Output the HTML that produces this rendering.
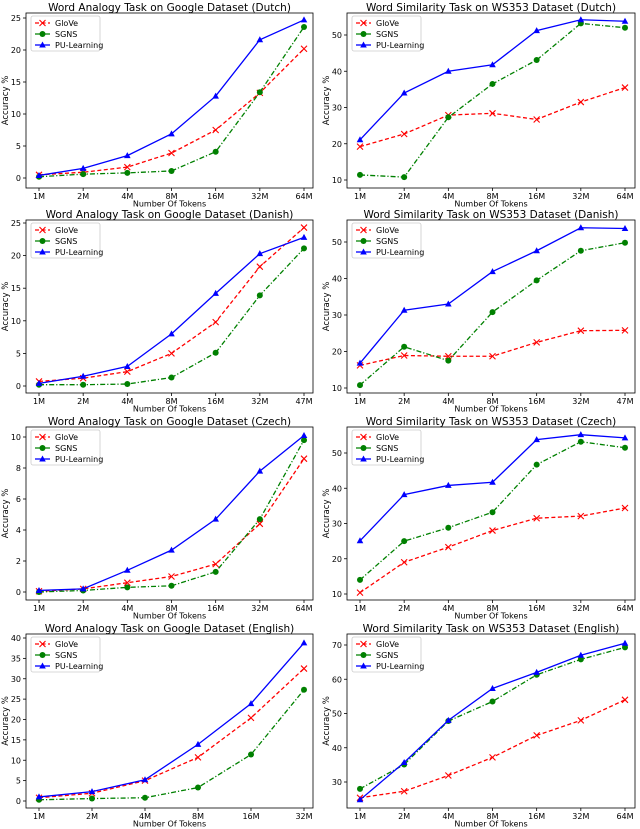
<!DOCTYPE html>
<html><head><meta charset="utf-8">
<style>
body{margin:0;background:#fff;}
svg{display:block;font-family:"DejaVu Sans","Liberation Sans",sans-serif;}
</style></head>
<body>
<svg id="chart" width="640" height="829" viewBox="0 0 640 829" xmlns="http://www.w3.org/2000/svg"></svg>
<script>
// ---- data ----
const titles = [
 "Word Analogy Task on Google Dataset (Dutch)","Word Similarity Task on WS353 Dataset (Dutch)",
 "Word Analogy Task on Google Dataset (Danish)","Word Similarity Task on WS353 Dataset (Danish)",
 "Word Analogy Task on Google Dataset (Czech)","Word Similarity Task on WS353 Dataset (Czech)",
 "Word Analogy Task on Google Dataset (English)","Word Similarity Task on WS353 Dataset (English)"];
const cats64 = ["1M","2M","4M","8M","16M","32M","64M"];
const cats47 = ["1M","2M","4M","8M","16M","32M","47M"];
const cats32 = ["1M","2M","4M","8M","16M","32M"];
const gloveDutchA = [0.5,0.9,1.7,3.9,7.5,13.3,20.2];
const sgnsDutchA  = [0.2,0.6,0.8,1.1,4.1,13.4,23.6];
const puDutchA    = [0.4,1.5,3.5,6.9,12.8,21.6,24.7];
const gloveDutchS = [19.2,22.7,27.9,28.4,26.7,31.5,35.5];
const sgnsDutchS  = [11.4,10.8,27.3,36.5,43.1,53.2,52.0];
const puDutchS    = [21.1,34.0,40.0,41.8,51.2,54.2,53.8];
const gloveDanishA = [0.7,1.2,2.2,5.0,9.8,18.3,24.3];
const sgnsDanishA  = [0.2,0.2,0.3,1.3,5.1,13.9,21.1];
const puDanishA    = [0.4,1.5,3.0,8.0,14.2,20.3,22.8];
const gloveDanishS = [16.2,18.9,18.7,18.7,22.5,25.7,25.8];
const sgnsDanishS  = [10.8,21.3,17.5,30.8,39.5,47.6,49.8];
const puDanishS    = [16.8,31.3,33.0,41.9,47.6,53.9,53.7];
const gloveCzechA = [0.05,0.2,0.6,1.0,1.8,4.4,8.6];
const sgnsCzechA  = [0.0,0.1,0.3,0.4,1.3,4.7,9.8];
const puCzechA    = [0.1,0.2,1.4,2.7,4.7,7.8,10.1];
const gloveCzechS = [10.4,19.0,23.3,28.0,31.5,32.1,34.4];
const sgnsCzechS  = [14.0,25.0,28.8,33.2,46.7,53.2,51.5];
const puCzechS    = [25.1,38.2,40.8,41.7,53.8,55.2,54.3];
const gloveEnglishA = [0.8,1.9,5.0,10.7,20.4,32.5];
const sgnsEnglishA  = [0.3,0.6,0.8,3.3,11.4,27.3];
const puEnglishA    = [1.0,2.3,5.2,13.9,23.9,38.8];
const gloveEnglishS = [25.4,27.3,31.9,37.2,43.6,48.0,54.0];
const sgnsEnglishS  = [28.0,35.1,47.8,53.5,61.3,65.8,69.3];
const puEnglishS    = [24.8,35.7,48.0,57.3,62.0,67.0,70.5];
const ticksA25 = [0,5,10,15,20,25];
const ticksA10 = [0,2,4,6,8,10];
const ticksA40 = [0,5,10,15,20,25,30,35,40];
const ticksS50 = [10,20,30,40,50];
const ticksS70 = [30,40,50,60,70];

const NS="http://www.w3.org/2000/svg";
const svg=document.getElementById('chart');
function mk(tag,attrs,parent){const e=document.createElementNS(NS,tag);for(const k in attrs)e.setAttribute(k,attrs[k]);(parent||svg).appendChild(e);return e;}

const panels=[
 {t:0,cats:cats64,g:gloveDutchA,s:sgnsDutchA,p:puDutchA,ticks:ticksA25,side:0,row:0,v0:0,p0:178,v1:25,p1:18},
 {t:1,cats:cats64,g:gloveDutchS,s:sgnsDutchS,p:puDutchS,ticks:ticksS50,side:1,row:0,v0:10,p0:180,v1:50,p1:35},
 {t:2,cats:cats47,g:gloveDanishA,s:sgnsDanishA,p:puDanishA,ticks:ticksA25,side:0,row:1,v0:0,p0:386,v1:25,p1:223},
 {t:3,cats:cats47,g:gloveDanishS,s:sgnsDanishS,p:puDanishS,ticks:ticksS50,side:1,row:1,v0:10,p0:388,v1:50,p1:242},
 {t:4,cats:cats64,g:gloveCzechA,s:sgnsCzechA,p:puCzechA,ticks:ticksA10,side:0,row:2,v0:0,p0:592,v1:10,p1:437},
 {t:5,cats:cats64,g:gloveCzechS,s:sgnsCzechS,p:puCzechS,ticks:ticksS50,side:1,row:2,v0:10,p0:594,v1:50,p1:453},
 {t:6,cats:cats32,g:gloveEnglishA,s:sgnsEnglishA,p:puEnglishA,ticks:ticksA40,side:0,row:3,v0:0,p0:801,v1:40,p1:638},
 {t:7,cats:cats64,g:gloveEnglishS,s:sgnsEnglishS,p:puEnglishS,ticks:ticksS70,side:1,row:3,v0:30,p0:782,v1:70,p1:645}
];
const frameTop=[13,220,427,634], frameBot=[188,393,600,808];
const frameL=[26,347], frameR=[313,635], xFirst=[39,360], xLast=[304,625];

function marker(type,x,y,g){
  if(type==='x'){
    mk('path',{d:`M${x-3},${y-3}L${x+3},${y+3}M${x-3},${y+3}L${x+3},${y-3}`,stroke:'#ff0000','stroke-width':1.1,fill:'none'},g);
  }else if(type==='o'){
    mk('circle',{cx:x,cy:y,r:3,fill:'#008000'},g);
  }else{
    mk('path',{d:`M${x},${y-3.5}L${x+3.3},${y+2.5}L${x-3.3},${y+2.5}Z`,fill:'#0000ff'},g);
  }
}

panels.forEach((P,i)=>{
  const L=frameL[P.side],R=frameR[P.side],T=frameTop[P.row],B=frameBot[P.row];
  const n=P.cats.length;
  const xs=k=>xFirst[P.side]+(xLast[P.side]-xFirst[P.side])*k/(n-1);
  const ys=v=>P.p0+(v-P.v0)*(P.p1-P.p0)/(P.v1-P.v0);
  const g=mk('g',{});
  
  
  const tt=mk('text',{x:(L+R)/2,y:T-2,'text-anchor':'middle','font-size':10.5,fill:'#000'},g);
  tt.textContent=titles[P.t];
  
  
  P.ticks.forEach(v=>{
    const y=ys(v);
    mk('line',{x1:L-3,x2:L,y1:y,y2:y,stroke:'#000','stroke-width':0.8},g);
    const t=mk('text',{x:L-5,y:y+3,'text-anchor':'end','font-size':8,fill:'#000'},g);
    t.textContent=v;
    
    
  });
  P.cats.forEach((c,k)=>{
    const x=xs(k);
    mk('line',{x1:x,x2:x,y1:B,y2:B+3,stroke:'#000','stroke-width':0.8},g);
    const t=mk('text',{x:x,y:B+11,'text-anchor':'middle','font-size':8,fill:'#000'},g);
    t.textContent=c;
    
    
  });
  const xl=mk('text',{x:(L+R)/2,y:B+18.5,'text-anchor':'middle','font-size':8,fill:'#000'},g);
  xl.textContent='Number Of Tokens';
  
  
  const yl=mk('text',{x:0,y:0,'text-anchor':'middle','font-size':8.5,fill:'#000',transform:`translate(${L-18},${(T+B)/2}) rotate(-90)`},g);
  yl.textContent='Accuracy %';
  
  
  const series=[
    {d:P.g,c:'#ff0000',dash:'4,2.5',m:'x',name:'glove'},
    {d:P.s,c:'#008000',dash:'5,2,1.2,2',m:'o',name:'sgns'},
    {d:P.p,c:'#0000ff',dash:'',m:'^',name:'pu-learning'}];
  series.forEach(S=>{
    const pts=S.d.map((v,k)=>xs(k)+','+ys(v)).join(' ');
    const pl=mk('polyline',{points:pts,fill:'none',stroke:S.c,'stroke-width':1.3,'stroke-dasharray':S.dash},g);
    
    
    S.d.forEach((v,k)=>marker(S.m,xs(k),ys(v),g));
  });
  mk('rect',{x:L,y:T,width:R-L,height:B-T,fill:'none',stroke:'#000','stroke-width':0.8},g);
  const lg=mk('g',{},g);
  
  
  mk('rect',{x:L+5,y:T+3,width:69,height:35,fill:'#fff',stroke:'#ccc','stroke-width':0.8,rx:2},lg);
  const lab=['GloVe','SGNS','PU-Learning'];
  series.forEach((S,k)=>{
    const y=T+10+k*11;
    mk('line',{x1:L+9,x2:L+24,y1:y,y2:y,stroke:S.c,'stroke-width':1.3,'stroke-dasharray':S.dash},lg);
    marker(S.m,L+16.5,y,lg);
    const t=mk('text',{x:L+29,y:y+3,'font-size':8,fill:'#000'},lg);
    t.textContent=lab[k];
    
    
  });
});
</script>
</body></html>
